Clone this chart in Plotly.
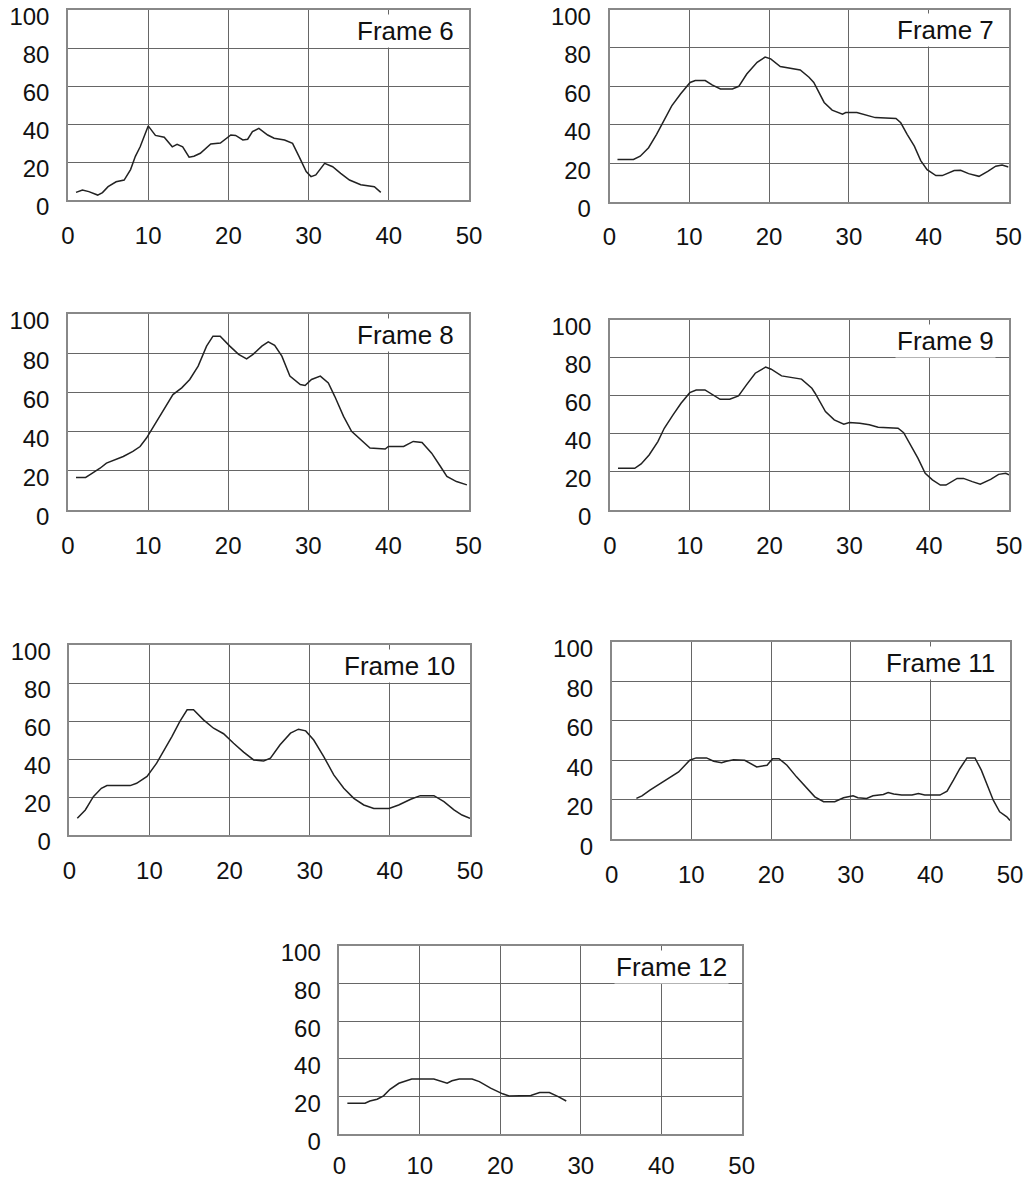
import plotly.graph_objects as go

# ---------------- data ----------------
x_ticks = [0, 10, 20, 30, 40, 50]
y_ticks = [0, 20, 40, 60, 80, 100]

frame_names = ["Frame 6", "Frame 7", "Frame 8", "Frame 9", "Frame 10", "Frame 11", "Frame 12"]

f6_x = [1, 1.8, 2.6, 3.7, 4.3, 5, 6, 7, 7.8, 8.4, 9, 9.7, 10, 10.9, 12, 13, 13.6, 14.3, 15.1, 15.7,
        16.5, 17.8, 19, 20.3, 20.9, 21.8, 22.4, 23, 23.8, 24.9, 25.7, 27, 28, 28.8, 29.7, 30.3, 30.9,
        32, 33, 34, 35.1, 36.5, 38.2, 39]
f6_y = [4, 5.3, 4.4, 2.6, 3.9, 7, 9.6, 10.5, 16, 23, 28, 36, 39, 34, 33, 28, 29.3, 28, 22.5, 23,
        24.6, 29.5, 30, 34.2, 34, 31.6, 32, 36, 37.7, 34.2, 32.5, 31.6, 29.8, 23, 15, 12.3, 13.2,
        19.3, 17.5, 14, 10.5, 8, 7, 4]

f7_x = [1, 3, 3.85, 4.9, 5.9, 6.8, 7.8, 8.9, 10.1, 10.75, 12, 12.85, 13.9, 15.4, 16.2, 17.2, 18.5,
        19.5, 20.2, 21.4, 22.7, 23.9, 25, 25.6, 26.9, 27.9, 29.2, 29.6, 31, 32.3, 33.3, 35.9, 36.5,
        37.3, 38.2, 39, 39.8, 40.9, 41.7, 43.2, 44, 45, 46.3, 47.4, 48.4, 49.2, 50]
f7_y = [21.9, 21.9, 23.6, 28, 35, 42, 49.8, 56, 62, 63, 63, 60.7, 58.6, 58.6, 60, 66.4, 72.5,
        75.2, 74.3, 70.3, 69.4, 68.5, 64.7, 62, 51.6, 47.6, 45.5, 46.3, 46.3, 45, 43.7, 43.2, 41,
        35, 28.8, 21.3, 16.6, 13.5, 13.5, 16.1, 16.3, 14.5, 13.1, 15.7, 18.4, 19, 18]

f8_x = [1, 2.2, 2.9, 4, 4.8, 5.8, 6.9, 8.1, 9, 9.8, 10.8, 11.9, 13.1, 14.2, 15.2, 16.25, 17.3,
        18.1, 19, 20.2, 21.3, 22.3, 23.1, 24.2, 25, 25.8, 26.7, 27.7, 29, 29.6, 30.4, 31.5, 32.5,
        33.3, 34.4, 35.4, 36.5, 37.7, 39.6, 40, 41.9, 43.1, 44.2, 45.4, 46.5, 47.3, 48.5, 49.8]
f8_y = [16.6, 16.6, 18.4, 21.3, 23.9, 25.6, 27.3, 29.9, 32.4, 36.7, 43.5, 51.2, 58.9, 62.3, 66.6,
        73.4, 83.6, 88.7, 88.7, 83.6, 79.4, 77.1, 79.4, 83.6, 85.8, 84, 78.5, 68.3, 64, 63.5, 66.6,
        68.3, 64.8, 58, 47.8, 40.1, 35.8, 31.6, 31.1, 32.4, 32.4, 35, 34.5, 29, 22.2, 17.1, 14.5, 12.8]

f9_x = [1, 3.1, 3.9, 4.9, 6, 6.8, 7.9, 8.9, 10, 10.8, 11.9, 12.9, 13.8, 15, 16.1, 17.1, 18.2, 19.5,
        20.2, 21.5, 22.7, 24, 25.3, 25.7, 27, 28.1, 29.3, 30, 31.3, 32.5, 33.6, 36.1, 36.8, 37.8,
        38.6, 39.5, 40.4, 41.4, 42.1, 43.5, 44.3, 45.4, 46.4, 47.7, 48.7, 49.6, 50]
f9_y = [21.9, 21.9, 24.2, 28.9, 35.9, 42.9, 49.9, 56, 61.6, 63, 63, 60.4, 58.1, 58.1, 59.9, 65.7,
        71.8, 75, 73.9, 70.4, 69.5, 68.7, 63.9, 61.3, 51.7, 47.3, 45, 45.9, 45.5, 44.7, 43.4, 42.9,
        40.6, 33.3, 27.1, 19.3, 15.8, 13.1, 13.1, 16.6, 16.6, 14.9, 13.5, 16.1, 18.7, 19.3, 18.4]

f10_x = [1, 2, 3, 4, 4.7, 7.6, 8.4, 9.7, 10.9, 11.75, 12.8, 13.8, 14.7, 15.5, 16.75, 18, 19.25,
         20.5, 21.75, 23, 24.25, 25.1, 26.3, 27.6, 28.6, 29.5, 30.5, 31.75, 33, 34.25, 35.5, 36.75,
         38, 39.9, 41.1, 42.6, 43.8, 45.5, 46.75, 48, 49, 50]
f10_y = [8.8, 13.2, 20.2, 24.6, 26, 26, 27.2, 30.8, 37.8, 43.9, 51.8, 59.8, 65.9, 65.9, 60.6, 56.2,
         53.3, 48.3, 43.6, 39.5, 39, 40.4, 47.5, 53.6, 55.7, 54.8, 50, 41.3, 31.6, 24.6, 19.3, 15.8,
         14, 14, 15.8, 18.8, 20.7, 20.7, 17.6, 13.2, 10.5, 8.8]

f11_x = [3.1, 3.8, 4.8, 6.1, 7.3, 8.4, 9.2, 9.8, 10.6, 11.9, 12.8, 13.8, 14.4, 15.3, 16.7, 17.4,
         18.2, 19.5, 20.2, 21, 22, 23.2, 24.5, 25.5, 26.6, 28, 29.1, 30.3, 30.9, 32, 32.8, 34.1,
         34.7, 35.4, 36.4, 37.7, 38.5, 39.3, 41.2, 42.1, 42.9, 43.7, 44.6, 45.6, 46.4, 47.1, 47.9,
         48.7, 49.6, 50]
f11_y = [20.7, 22, 24.9, 28.2, 31.1, 34.1, 37.5, 40, 41.2, 41.2, 39.5, 38.7, 39.5, 40.3, 40, 38.3,
         36.6, 37.5, 40.8, 40.8, 37.5, 31.6, 25.7, 21.5, 19, 19, 21, 22, 21, 20.7, 22, 22.7, 23.7,
         22.9, 22.4, 22.4, 23.2, 22.4, 22.4, 24.4, 29.9, 35.7, 41.2, 41.2, 35, 28.2, 19.8, 13.9,
         11.4, 9.5]

f12_x = [1, 3.2, 3.8, 4.7, 5.5, 6.3, 7.4, 8.2, 9, 11.75, 12.6, 13.4, 14, 14.9, 16.5, 17.4, 18.8,
         20.3, 21.1, 23.8, 24.9, 26.1, 27.2, 28.2]
f12_y = [16.5, 16.5, 17.7, 18.6, 20.4, 23.9, 27.1, 28.4, 29.4, 29.4, 28, 27.1, 28.4, 29.4, 29.4,
         28, 24.5, 21.5, 20.4, 20.6, 22.2, 22.2, 20, 17.7]

series_x = [f6_x, f7_x, f8_x, f9_x, f10_x, f11_x, f12_x]
series_y = [f6_y, f7_y, f8_y, f9_y, f10_y, f11_y, f12_y]

# ---------------- layout (pixel boxes of each panel) ----------------
W, H = 1029, 1181
# (left, right, top, bottom) in pixels
boxes = [
    (68, 469, 10, 200),
    (609.5, 1008.5, 9.5, 201.5),
    (68, 468.5, 314, 510),
    (610, 1009, 319.5, 510),
    (69.3, 470, 645, 835),
    (611.7, 1010, 641.7, 839.3),
    (339.3, 741.7, 946, 1134.3),
]
x_label_gap = [13, 13, 13, 13, 13, 13, 9]

FONT = "Liberation Sans, Arial, Helvetica, sans-serif"
fig = go.Figure()
layout = dict(
    width=W, height=H,
    margin=dict(l=0, r=0, t=0, b=0, pad=0),
    paper_bgcolor="white", plot_bgcolor="white",
    showlegend=False,
    font=dict(family=FONT, size=24, color="#111111"),
)
annotations = []
for i, (name, xs, ys, box) in enumerate(zip(frame_names, series_x, series_y, boxes)):
    n = i + 1
    xk = "xaxis" if n == 1 else f"xaxis{n}"
    yk = "yaxis" if n == 1 else f"yaxis{n}"
    xr = "x" if n == 1 else f"x{n}"
    yr = "y" if n == 1 else f"y{n}"
    l, r, t, b = box
    fig.add_trace(go.Scatter(x=xs, y=ys, mode="lines",
                             line=dict(color="#222222", width=1.5),
                             xaxis=xr, yaxis=yr, hoverinfo="skip"))
    layout[xk] = dict(
        domain=[l / W, r / W], anchor=yr, range=[0, 50], automargin=False,
        tickmode="array", tickvals=x_ticks, ticktext=[str(v) for v in x_ticks],
        showgrid=True, gridcolor="#666666", gridwidth=1, zeroline=False,
        showline=True, linecolor="#888888", linewidth=1.5, mirror=True,
        ticks="outside", ticklen=x_label_gap[i], tickcolor="rgba(0,0,0,0)",
        ticklabeloverflow="allow",
        tickfont=dict(family=FONT, size=24, color="#111111"),
        fixedrange=True,
    )
    layout[yk] = dict(
        domain=[1 - b / H, 1 - t / H], anchor=xr, range=[0, 100], automargin=False,
        tickmode="array", tickvals=y_ticks, ticktext=[str(v) for v in y_ticks],
        showgrid=True, gridcolor="#666666", gridwidth=1, zeroline=False,
        showline=True, linecolor="#888888", linewidth=1.5, mirror=True,
        ticks="outside", ticklen=12, tickcolor="rgba(0,0,0,0)",
        ticklabeloverflow="allow", ticklabelshift=7,
        tickfont=dict(family=FONT, size=24, color="#111111"),
        fixedrange=True,
    )
    annotations.append(dict(
        text=name, xref=f"{xr} domain", yref=f"{yr} domain",
        x=1 - 13 / (r - l), y=1 - 21 / (b - t), xanchor="right", yanchor="middle",
        showarrow=False, font=dict(family=FONT, size=26, color="#111111"),
        bgcolor="white",
    ))
layout["annotations"] = annotations
fig.update_layout(**layout)
fig.write_html("out.html")
